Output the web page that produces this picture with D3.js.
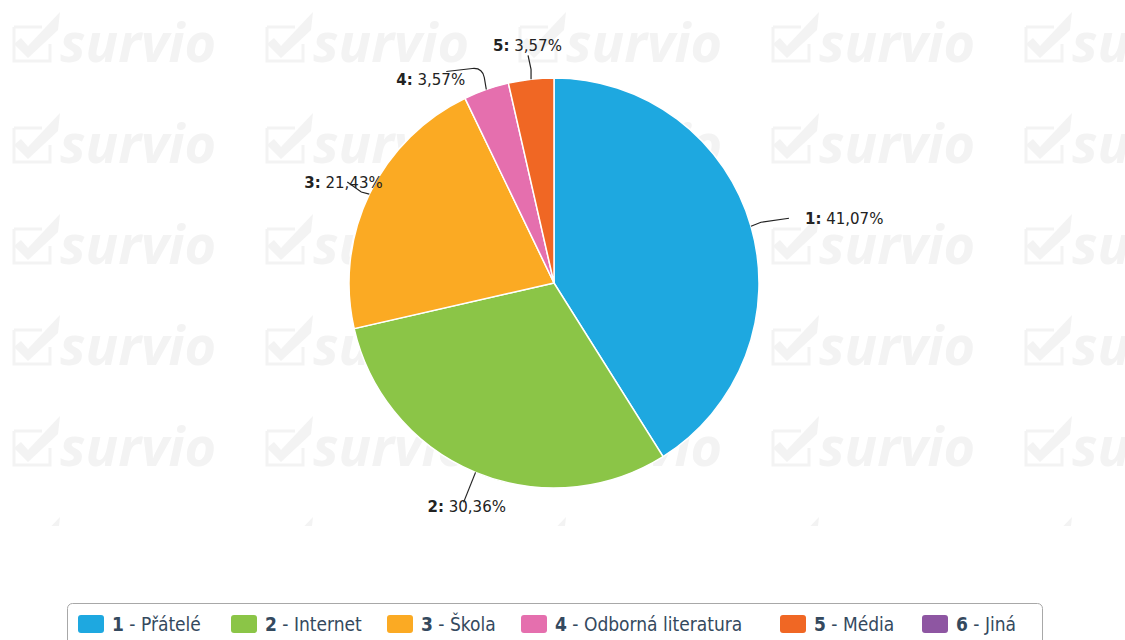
<!DOCTYPE html>
<html>
<head>
<meta charset="utf-8">
<script src="https://d3js.org/d3.v7.min.js"></script>
<style>
  body { margin: 0; background: #fff; }
  svg { display: block; }
</style>
</head>
<body>
<script>
var categories = ["Přátelé", "Internet", "Škola", "Odborná literatura", "Média", "Jiná"];
var counts = [23, 17, 12, 2, 2, 0];
var percents = ["41,07%", "30,36%", "21,43%", "3,57%", "3,57%", "0%"];
var colors = ["#1ea8e0", "#8bc547", "#fbaa23", "#e56fae", "#f06724", "#8e56a2"];

var width = 1125, height = 640;
var cx = 554, cy = 283, radius = 205;

var svg = d3.select("body").append("svg")
    .attr("width", width)
    .attr("height", height);

// watermark
var clip = svg.append("defs").append("clipPath").attr("id", "wmclip");
clip.append("rect").attr("x", 0).attr("y", 0).attr("width", width).attr("height", 526);
var wm = svg.append("g").attr("clip-path", "url(#wmclip)");
d3.range(5).forEach(function(col){
    d3.range(6).forEach(function(row){
        var x = 12 + col * 253, y = 0 + row * 101;
        var t = wm.append("g").attr("transform", "translate(" + x + "," + y + ")");
        t.append("path")
            .attr("d", "M2,27 L30,27 M2,27 L2,61 L38,61 L38,44")
            .attr("fill", "none").attr("stroke", "#f3f3f3").attr("stroke-width", 3);
        t.append("path")
            .attr("d", "M2,44 L9,38 L16,46 L48,12 L46,30 L16,58 Z")
            .attr("fill", "#f3f3f3");
        t.append("text")
            .attr("x", 48).attr("y", 62)
            .attr("font-family", "'Open Sans', 'DejaVu Sans', sans-serif")
            .attr("font-weight", "bold").attr("font-style", "italic")
            .attr("font-size", 54)
            .attr("fill", "#f3f3f3")
            .text("survio");
    });
});

var pie = d3.pie().sort(null).value(function(d){ return d; });
var arcs = pie(counts);
var arc = d3.arc().innerRadius(0).outerRadius(radius);

var g = svg.append("g").attr("transform", "translate(" + cx + "," + cy + ")");

g.selectAll("path.slice")
    .data(arcs.filter(function(a){ return a.value > 0; }))
    .enter().append("path")
    .attr("class", "slice")
    .attr("d", arc)
    .attr("fill", function(d){ return colors[d.index]; })
    .attr("stroke", "#fff")
    .attr("stroke-width", 1.5);

// label layout: offsets of connector ends and text relative to edge point
var labelLayout = [
    { c1: [10, -4], c2: [38, -8], t: [54, -2] },
    { c1: [-4, 10], c2: [-12, 30], t: [-48, 40] },
    { c1: [-8, -2], c2: [-22, -12], t: [-65, -6] },
    { curve: true, t: [-90, -5] },
    { c1: [0, -10], c2: [-3, -24], t: [-38, -28] }
];

var labels = g.append("g");
arcs.forEach(function(a, i){
    if (a.value <= 0) return;
    var mid = (a.startAngle + a.endAngle) / 2;
    var ex = Math.sin(mid) * radius, ey = -Math.cos(mid) * radius;
    var L = labelLayout[i];
    var d;
    if (L.curve) {
        d = "M" + ex + "," + ey + " L" + (ex - 2) + "," + (ey - 12) +
            " Q" + (ex - 4) + "," + (ey - 22) + " " + (ex - 14) + "," + (ey - 21) +
            " L" + (ex - 40) + "," + (ey - 18);
    } else {
        d = "M" + ex + "," + ey + " L" + (ex + L.c1[0]) + "," + (ey + L.c1[1]) +
            " L" + (ex + L.c2[0]) + "," + (ey + L.c2[1]);
    }
    labels.append("path")
        .attr("d", d)
        .attr("fill", "none")
        .attr("stroke", "#222")
        .attr("stroke-width", 1.2);
    var txt = labels.append("text")
        .attr("x", ex + L.t[0]).attr("y", ey + L.t[1])
        .attr("font-family", "'DejaVu Sans', sans-serif")
        .attr("font-size", 15)
        .attr("fill", "#222");
    txt.append("tspan").attr("font-weight", "bold").text((i + 1) + ":");
    txt.append("tspan").text(" " + percents[i]);
});

// legend
var legend = svg.append("g");
legend.append("rect")
    .attr("x", 67.5).attr("y", 603.5)
    .attr("width", 975).attr("height", 60)
    .attr("rx", 5)
    .attr("fill", "#fff")
    .attr("stroke", "#a8a8a8");

var itemX = [78, 231, 387, 521, 780, 922];
categories.forEach(function(c, i){
    var it = legend.append("g").attr("transform", "translate(" + itemX[i] + ",615)");
    it.append("rect")
        .attr("width", 26).attr("height", 18).attr("rx", 3)
        .attr("fill", colors[i]);
    var t = it.append("text")
        .attr("x", 34).attr("y", 16)
        .attr("font-family", "'DejaVu Sans Condensed', 'DejaVu Sans', sans-serif")
        .attr("font-size", 19)
        .attr("fill", "#34495e");
    t.append("tspan").attr("font-weight", "bold").text(i + 1);
    t.append("tspan").text(" - " + c);
});
</script>
</body>
</html>
